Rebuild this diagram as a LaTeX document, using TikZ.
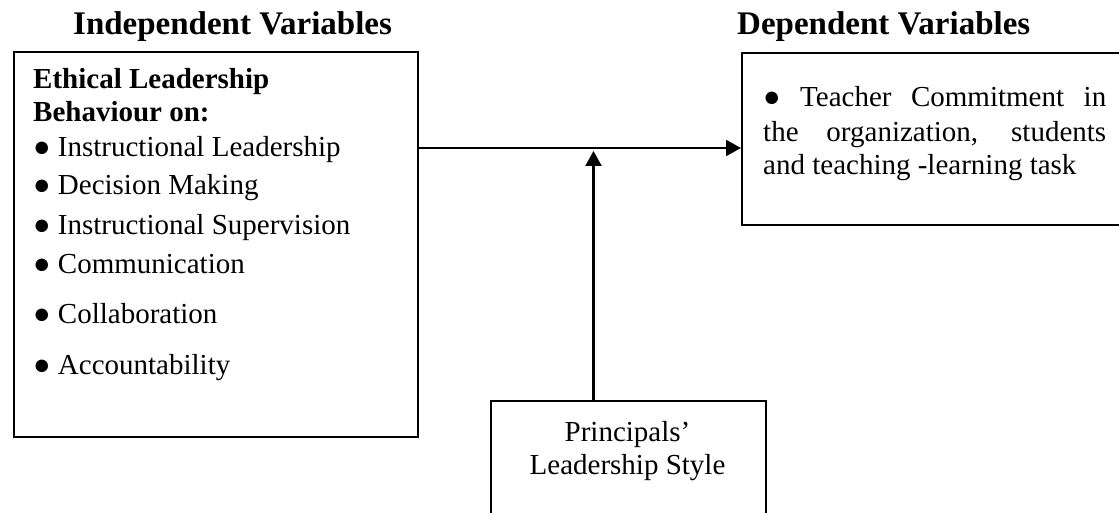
\documentclass[tikz,border=0pt]{standalone}
\usepackage{fontspec}
\setmainfont{Liberation Serif}
\usetikzlibrary{arrows.meta}
\tikzset{
  box/.style={draw=black, line width=2pt, rectangle, inner sep=0pt, anchor=north west},
  title/.style={font=\fontsize{33}{40}\selectfont\bfseries, anchor=base west, inner sep=0pt},
  body/.style={font=\fontsize{29}{34}\selectfont, anchor=base west, inner sep=0pt},
  bodyb/.style={font=\fontsize{29}{34}\selectfont\bfseries, anchor=base west, inner sep=0pt},
  bodyc/.style={font=\fontsize{29}{34}\selectfont, anchor=base, inner sep=0pt},
  arr/.style={line width=2.2pt, -{Triangle[length=15pt, width=16pt]}}
}
\begin{document}
\begin{tikzpicture}[x=1pt, y=-1pt]
\clip (0,0) rectangle (1119,513);
\fill[white] (0,0) rectangle (1119,513);
% titles
\node[title] (tind) at (73,35) {Independent Variables};
\node[title] (tdep) at (737,35) {Dependent Variables};
% boxes
\node[box, minimum width=404pt, minimum height=384pt] (lbox) at (12.5,51.5) {};
\node[box, minimum width=420pt, minimum height=172pt] (rbox) at (741,52) {};
\node[box, minimum width=275pt, minimum height=150pt] (bbox) at (490,400) {};
% left box text
\node[bodyb] (l1) at (33,89) {Ethical Leadership};
\node[bodyb] (l2) at (33,122) {Behaviour on:};
\node[body] (b1) at (33,157) {● Instructional Leadership};
\node[body] (b2) at (33,195) {● Decision Making};
\node[body] (b3) at (33,234) {● Instructional Supervision};
\node[body] (b4) at (33,273) {● Communication};
\node[body] (b5) at (33,323) {● Collaboration};
\node[body] (b6) at (33,374) {● Accountability};
% right box text
\node[body] (r1) at (763,107) {\makebox[343pt][s]{● Teacher Commitment in}};
\node[body] (r2) at (763,142) {\makebox[343pt][s]{the organization, students}};
\node[body] (r3) at (763,175) {and teaching -learning task};
% bottom box text
\node[bodyc] (p1) at (627.5,441) {Principals’};
\node[bodyc] (p2) at (627.5,474) {Leadership Style};
% connectors
\coordinate (hline) at (0,148);
\coordinate (vtip) at (593.5,151);
\draw[arr] (lbox.east |- hline) -- (rbox.west |- hline);
\draw[arr] (bbox.north -| vtip) -- (vtip);
\end{tikzpicture}
\end{document}
